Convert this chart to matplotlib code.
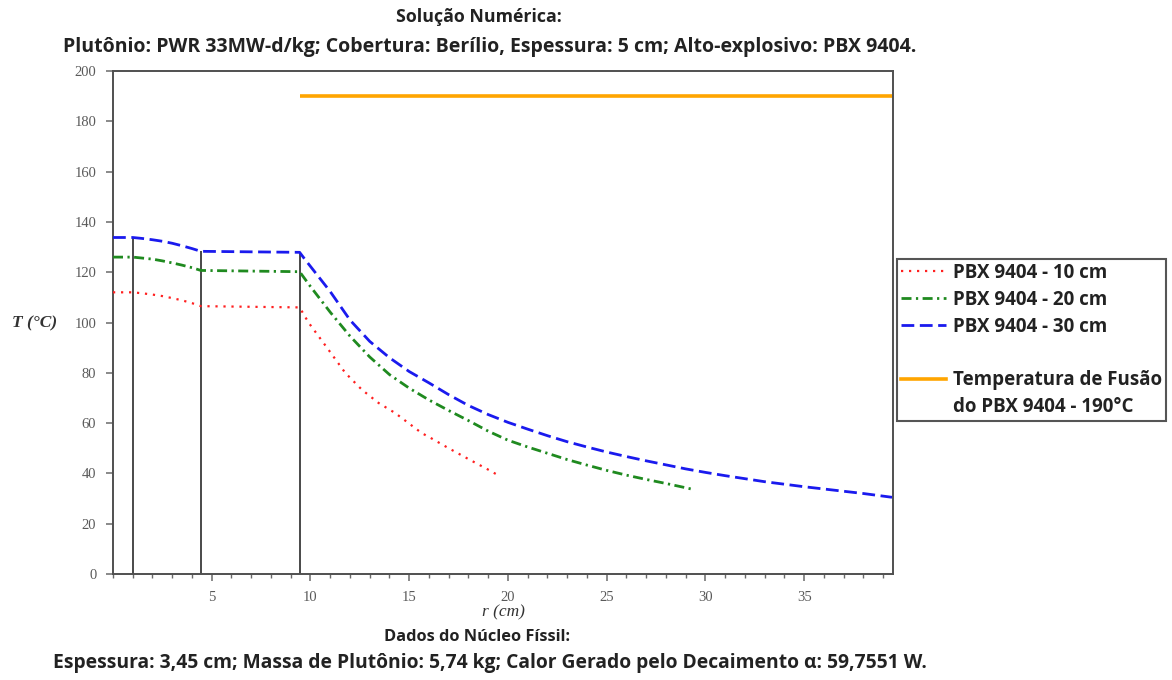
import numpy as np
import matplotlib
matplotlib.use("Agg")
import matplotlib.pyplot as plt
from matplotlib.lines import Line2D
from matplotlib.ticker import MultipleLocator, FixedLocator

# Radial positions (cm) and temperatures (°C) for each high-explosive thickness
r_10 = [0, 1, 1.5, 2, 2.5, 3, 3.5, 4, 4.45, 9.45, 9.9, 10.91, 11.76, 12.6, 13.45,
        14.29, 15.64, 16, 17, 18, 19, 19.45]
T_10 = [112, 112, 111.6, 111.1, 110.5, 109.7, 108.8, 107.7, 106.5, 106, 100, 89.2, 80,
        73.3, 68, 64, 56, 54.5, 50, 45.7, 41.5, 39.5]

r_20 = [0, 1, 1.5, 2, 2.5, 3, 3.5, 4, 4.45, 9.45, 10, 11, 12, 13, 14, 15, 16, 17, 18,
        19, 20, 21, 22, 23, 24, 25, 26, 27, 28, 29, 29.45]
T_20 = [126, 126, 125.6, 125.2, 124.5, 123.7, 122.8, 121.8, 120.7, 120.2, 114.3, 104.1,
        94.6, 86.3, 79.3, 73.9, 69.2, 65, 61, 56.8, 53.2, 50.5, 48, 45.5, 43.3, 41.2,
        39.3, 37.6, 36, 34.3, 33.5]

r_30 = [0, 1, 1.5, 2, 2.5, 3, 3.5, 4, 4.45, 9.45, 9.73, 10, 11, 12, 13, 14, 15, 16, 17,
        18, 19, 20, 21, 22, 23, 24, 25, 26, 27, 28, 29, 30, 31, 32, 33, 34, 35, 36, 37,
        38, 39.45]
T_30 = [133.8, 133.8, 133.4, 132.9, 132.3, 131.5, 130.5, 129.4, 128.3, 127.9, 125, 122.3,
        112.3, 101, 92.5, 86, 80.5, 76, 71.3, 67, 63.4, 60.3, 57.6, 55, 52.6, 50.5, 48.5,
        46.7, 45, 43.4, 41.8, 40.4, 39.1, 37.9, 36.7, 35.7, 34.7, 33.8, 32.9, 32, 30.5]

# Layer interfaces (cm): inner cavity / fissile core / beryllium reflector
interfaces = [1.0, 4.45, 9.45]

# Melting temperature of PBX 9404 (°C)
T_fusao = 190

labels = ["PBX 9404 - 10 cm", "PBX 9404 - 20 cm", "PBX 9404 - 30 cm"]
fusao_label = ["Temperatura de Fusão", "do PBX 9404 - 190°C"]
x_ticks = [5, 10, 15, 20, 25, 30, 35]
y_ticks = [0, 20, 40, 60, 80, 100, 120, 140, 160, 180, 200]

title_1 = "Solução Numérica:"
title_2 = "Plutônio: PWR 33MW-d/kg; Cobertura: Berílio, Espessura: 5 cm; Alto-explosivo: PBX 9404."
foot_1 = "Dados do Núcleo Físsil:"
foot_2 = "Espessura: 3,45 cm; Massa de Plutônio: 5,74 kg; Calor Gerado pelo Decaimento α: 59,7551 W."

W, H = 1172, 680
fig = plt.figure(figsize=(W / 100, H / 100), dpi=100)
ax = fig.add_axes([113 / W, 1 - 574 / H, (893 - 113) / W, (574 - 71) / H])

spine_col = "#505050"
tick_col = "#6a6a6a"
text_font = ["Open Sans", "DejaVu Sans"]

# Interface lines, rising up to the 30 cm profile
for r in interfaces:
    ax.vlines(r, 0, np.interp(r, r_30, T_30), color="#3a3a3a", lw=1.3, zorder=2)

# Melting temperature line across the explosive region
ax.hlines(T_fusao, interfaces[-1], r_30[-1], color="#ffa500", lw=2.6, zorder=3)

l10, = ax.plot(r_10, T_10, color="#ff2020", lw=1.6, zorder=4)
l10.set_dashes([1.0, 2.6])
l20, = ax.plot(r_20, T_20, color="#1f8a1f", lw=2.0, zorder=4)
l20.set_dashes([3.6, 1.6, 0.8, 1.6])
l30, = ax.plot(r_30, T_30, color="#1a1aee", lw=2.0, zorder=4)
l30.set_dashes([4.6, 2.0])

ax.set_xlim(0, 39.5)
ax.set_ylim(0, 200)

ax.xaxis.set_major_locator(FixedLocator(x_ticks))
ax.xaxis.set_minor_locator(MultipleLocator(1))
ax.yaxis.set_major_locator(FixedLocator(y_ticks))

for s in ax.spines.values():
    s.set_color(spine_col)
    s.set_linewidth(1.4)

ax.tick_params(axis="both", which="major", direction="out", length=5, width=1.1,
               color=tick_col, labelcolor="#5a5a5a", labelsize=10.5, pad=7)
ax.tick_params(axis="x", which="minor", direction="out", length=3, width=1.0,
               color=tick_col)
for lab in ax.get_xticklabels() + ax.get_yticklabels():
    lab.set_fontfamily("Liberation Serif")

# Axis labels
ax.text(0.5, -0.077, "r (cm)", transform=ax.transAxes, ha="center", va="center",
        fontfamily="Liberation Serif", fontstyle="italic", fontsize=12.5, color="#333333")
fig.text(35 / W, 1 - 323 / H, "T (°C)", ha="center", va="center",
         fontfamily="Liberation Serif", fontstyle="italic", fontsize=12.5,
         fontweight="bold", color="#333333")

# Legend with a spacer row and a two-line last entry
blank = Line2D([], [], color="none")
orange = Line2D([], [], color="#ffa500", lw=2.6)
handles = [l10, l20, l30, blank, orange, blank]
leg_labels = labels + [" "] + fusao_label
leg = fig.legend(handles, leg_labels, loc="upper left",
                 bbox_to_anchor=(897 / W, 1 - 259 / H), bbox_transform=fig.transFigure,
                 borderaxespad=0, frameon=True, fancybox=False, framealpha=1,
                 edgecolor="#555555", handlelength=2.4, handletextpad=0.38,
                 labelspacing=0.37, borderpad=0.2,
                 prop={"family": text_font, "weight": "bold", "size": 13.5})
leg.get_frame().set_linewidth(1.5)
for t in leg.get_texts():
    t.set_color("#222222")

title_kw = dict(ha="center", va="center", fontfamily=text_font,
                fontweight="bold", color="#222222")
fig.text(479 / W, 1 - 17 / H, title_1, fontsize=12.8, **title_kw)
fig.text(490 / W, 1 - 47 / H, title_2, fontsize=14, **title_kw)
fig.text(477 / W, 1 - 637 / H, foot_1, fontsize=11.8, **title_kw)
fig.text(490 / W, 1 - 663 / H, foot_2, fontsize=13.85, **title_kw)

fig.savefig("out.png", dpi=100, facecolor="white")
